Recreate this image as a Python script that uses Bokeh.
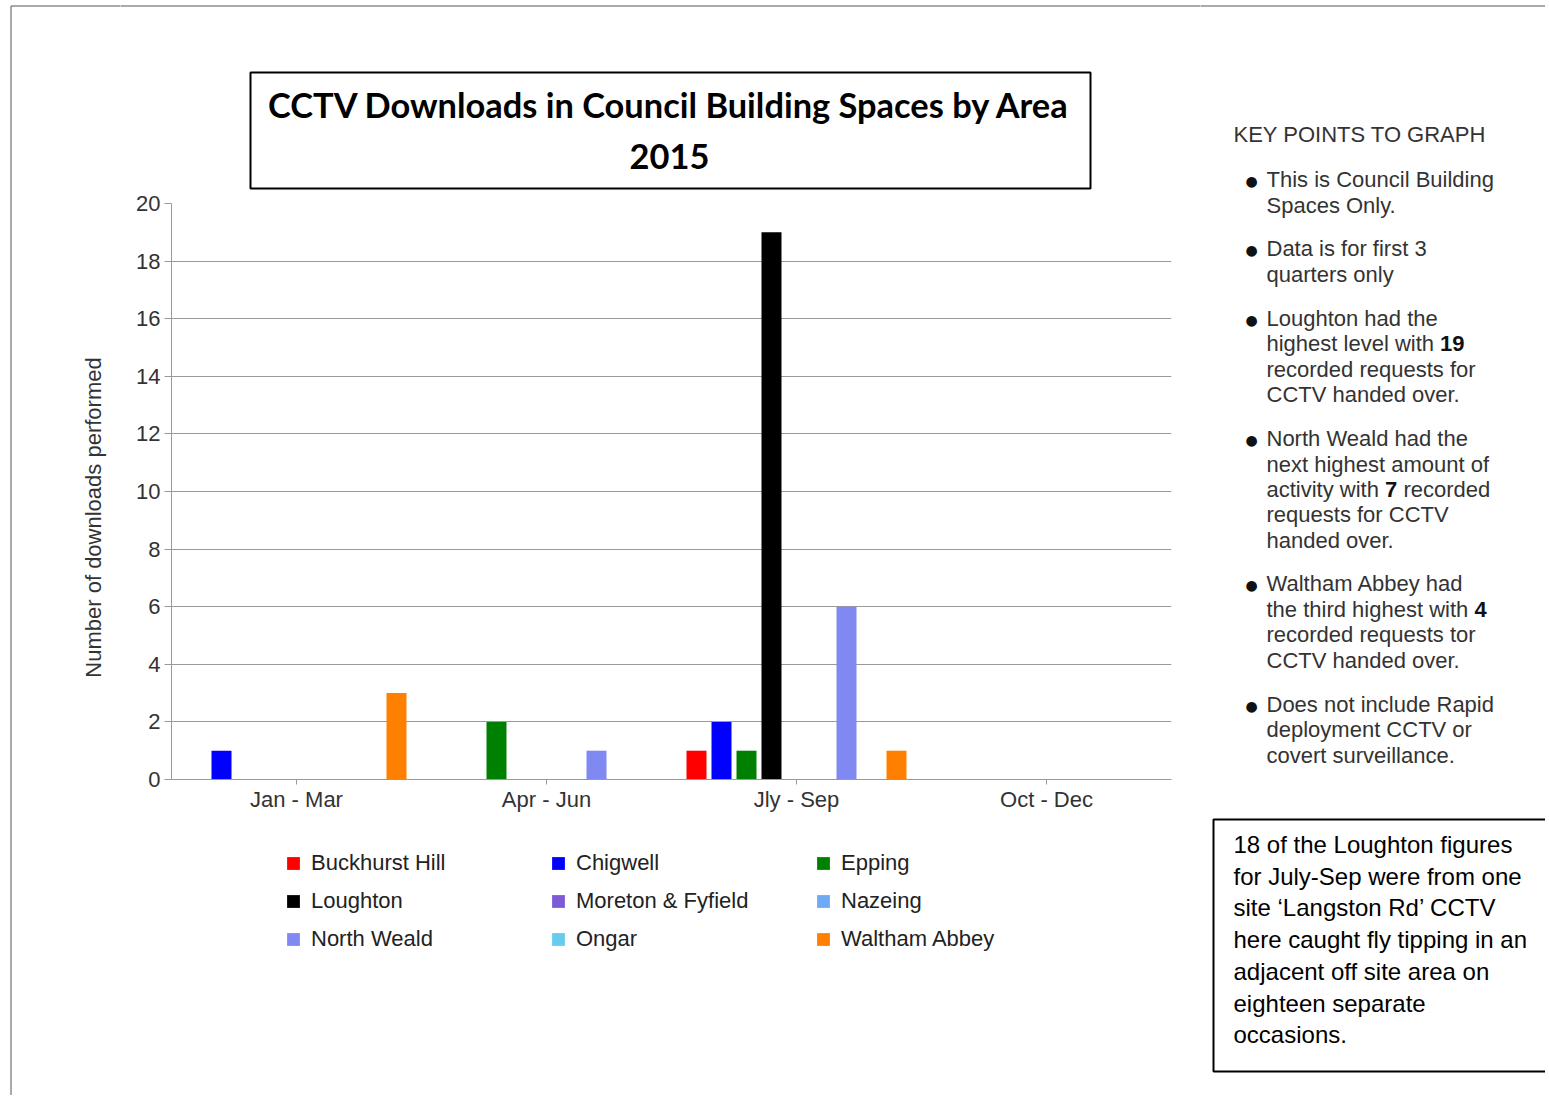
import math
import numpy as np
from bokeh.plotting import figure
from bokeh.layouts import row, column
from bokeh.models import (ColumnDataSource, FactorRange, Range1d, FixedTicker, Label,
                          BoxAnnotation, Legend, LegendItem)
from bokeh.transform import dodge
from bokeh.embed import file_html
from bokeh.resources import INLINE

# ---------------- data ----------------
quarters = ["Jan - Mar", "Apr - Jun", "Jly - Sep", "Oct - Dec"]
areas = ["Buckhurst Hill", "Chigwell", "Epping", "Loughton", "Moreton & Fyfield",
         "Nazeing", "North Weald", "Ongar", "Waltham Abbey"]
buckhurst_hill = [0, 0, 1, 0]
chigwell = [1, 0, 2, 0]
epping = [0, 2, 1, 0]
loughton = [0, 0, 19, 0]
moreton_fyfield = [0, 0, 0, 0]
nazeing = [0, 0, 0, 0]
north_weald = [0, 1, 6, 0]
ongar = [0, 0, 0, 0]
waltham_abbey = [3, 0, 1, 0]
series = [buckhurst_hill, chigwell, epping, loughton, moreton_fyfield,
          nazeing, north_weald, ongar, waltham_abbey]
colors = ["#ff0000", "#0000ff", "#008000", "#000000", "#7b5cd6",
          "#6eaaf5", "#8088f2", "#66ccee", "#ff8000"]
y_ticks = list(range(0, 21, 2))

title_lines = ["CCTV Downloads in Council Building Spaces by Area", "2015"]
y_label = "Number of downloads performed"
key_title = "KEY POINTS TO GRAPH"
note_lines = ["18 of the Loughton figures", "for July-Sep were from one",
              "site \u2018Langston Rd\u2019 CCTV", "here caught fly tipping in an",
              "adjacent off site area on", "eighteen separate", "occasions."]

FONT = "Liberation Sans"
GRID = "#9a9a9a"
BORDER = "#555555"

# ---------------- layout (page pixel coords) ----------------
STRIP_W = 120
MID_W = 1080
RIGHT_W = 345
TOTAL_H = 1095
TITLE_H = 190
CHART_H = 650
LEG_H = TOTAL_H - TITLE_H - CHART_H
L, R, T, B = 171, 1171, 203, 779  # chart frame in page pixels


def canvas(ox, oy, w, h):
    f = figure(width=w, height=h, x_range=Range1d(ox, ox + w), y_range=Range1d(oy + h, oy),
               min_border=0, x_axis_location=None, y_axis_location=None, frame_align=False,
               output_backend="svg", toolbar_location=None, title=None)
    f.xgrid.visible = False
    f.ygrid.visible = False
    f.outline_line_color = None
    f.background_fill_color = "white"
    f.border_fill_color = "white"
    return f


def lab(f, x, y, text, size=22, color="#333333", bold=False, align="left", font=FONT, angle=0.0):
    f.add_layout(Label(x=x, y=y, text=text, text_font=font, text_font_size=f"{size}px",
                       text_color=color, text_font_style="bold" if bold else "normal",
                       text_align=align, text_baseline="middle", angle=angle))


def box(f, l, t, r, b, color="black", width=2):
    f.add_layout(BoxAnnotation(left=l, right=r, top=t, bottom=b, fill_color=None,
                               fill_alpha=0, line_color=color, line_alpha=1.0,
                               line_width=width))


# strip: page border + y-axis title
strip = canvas(0, 0, STRIP_W, TOTAL_H)
box(strip, 10.5, 5.5, 3000, 3000, color=BORDER, width=1)
lab(strip, 93, 517, y_label, color="#333333", align="center", angle=math.pi / 2)

# title
tfig = canvas(STRIP_W, 0, MID_W, TITLE_H)
box(tfig, -100, 5.5, 3000, 3000, color=BORDER, width=1)
box(tfig, 250, 72, 1090, 188)
lab(tfig, 669, 104, title_lines[0], size=34.4, color="black", bold=True, align="center", font="Lato")
lab(tfig, 669, 156, title_lines[1], size=34.4, color="black", bold=True, align="center", font="Lato")

# chart
p = figure(width=MID_W, height=CHART_H, x_range=FactorRange(factors=quarters, range_padding=0),
           y_range=Range1d(0, 20), output_backend="svg", toolbar_location=None, title=None,
           frame_align=False,
           min_border_left=L - STRIP_W, min_border_right=STRIP_W + MID_W - R,
           min_border_top=T - TITLE_H, min_border_bottom=TITLE_H + CHART_H - B)
p.background_fill_color = "white"
p.border_fill_color = "white"
p.outline_line_color = None
src = ColumnDataSource(dict(quarter=quarters, **{f"s{i}": v for i, v in enumerate(series)}))
for i, (name, col) in enumerate(zip(areas, colors)):
    p.vbar(x=dodge("quarter", (i - 4) * 0.1, range=p.x_range), top=f"s{i}", width=0.08,
           source=src, fill_color=col, line_color=None)
p.xgrid.grid_line_color = None
p.ygrid.grid_line_color = GRID
p.ygrid.ticker = FixedTicker(ticks=y_ticks)
p.yaxis.ticker = FixedTicker(ticks=y_ticks)
for ax in (p.xaxis[0], p.yaxis[0]):
    ax.axis_line_color = GRID
    ax.major_tick_line_color = GRID
    ax.minor_tick_line_color = None
    ax.major_tick_in = 0
    ax.major_label_text_font = FONT
    ax.major_label_text_font_size = "22px"
    ax.major_label_text_color = "#333333"
p.xaxis.major_tick_out = 5
p.xaxis.major_label_standoff = 2
p.yaxis.major_tick_out = 7
p.yaxis.major_label_standoff = 4

# legend (swatch-only renderers with no visible data)
lfig = canvas(STRIP_W, TITLE_H + CHART_H, MID_W, LEG_H)
leg_items = []
for name, col in zip(areas, colors):
    r = lfig.vbar(x=np.array([np.nan]), top=np.array([np.nan]), width=1,
                  fill_color=col, line_color=None)
    leg_items.append(LegendItem(label=name, renderers=[r]))
legend = Legend(items=leg_items, location=(285 - STRIP_W, LEG_H - (953 - TITLE_H - CHART_H)),
                orientation="horizontal", ncols=3, spacing=10, padding=0, margin=0,
                glyph_width=16, glyph_height=16, label_standoff=10, label_width=229,
                label_height=28, label_text_font=FONT, label_text_font_size="22px",
                label_text_color="#222222", border_line_color=None, background_fill_alpha=0)
lfig.add_layout(legend)

# right panel: key points + note
rx0 = STRIP_W + MID_W
rfig = canvas(rx0, 0, RIGHT_W, TOTAL_H)
box(rfig, -100, 5.5, 3000, 3000, color=BORDER, width=1)

AW = {' ': .278, 'a': .556, 'c': .5, 'd': .556, 'e': .556, 'g': .556, 'h': .556, 'i': .222,
      'l': .222, 'r': .333, 's': .5, 't': .278, 'v': .5, 'w': .722, 'y': .5}


def tw(s, size=22):
    return sum(AW.get(ch, .556) for ch in s) * size


KX, BX = 1266, 1251
lab(rfig, 1233, 134, key_title)
paras = [
    [(179, "This is Council Building"), (205, "Spaces Only.")],
    [(248, "Data is for first 3"), (274, "quarters only")],
    [(318, "Loughton had the"), (343, ["highest level with ", "*19"]),
     (369, "recorded requests for"), (394, "CCTV handed over.")],
    [(438, "North Weald had the"), (464, "next highest amount of"),
     (489, ["activity with ", "*7", " recorded"]), (514, "requests for CCTV"),
     (540, "handed over.")],
    [(583, "Waltham Abbey had"), (609, ["the third highest with ", "*4"]),
     (634, "recorded requests tor"), (660, "CCTV handed over.")],
    [(704, "Does not include Rapid"), (729, "deployment CCTV or"), (755, "covert surveillance.")],
]
for para in paras:
    lab(rfig, BX, para[0][0] + 1, "\u25cf", size=14, align="center", color="#111111",
        font="DejaVu Sans")
    for y, line in para:
        if isinstance(line, str):
            lab(rfig, KX, y, line)
        else:
            x = KX
            for seg in line:
                if seg.startswith("*"):
                    lab(rfig, x, y, seg[1:], bold=True, color="#111111")
                    x += .556 * 22 * len(seg[1:])
                else:
                    lead = len(seg) - len(seg.lstrip())
                    x += tw(seg[:lead])
                    lab(rfig, x, y, seg.strip())
                    x += tw(seg[lead:])

box(rfig, 1213, 819, 3000, 1071)
for k, line in enumerate(note_lines):
    lab(rfig, 1233, 844 + k * 31.7, line, size=24, color="black")

layout = row(strip, column(tfig, p, lfig), rfig)
open("out.html", "w").write(file_html(layout, INLINE))
